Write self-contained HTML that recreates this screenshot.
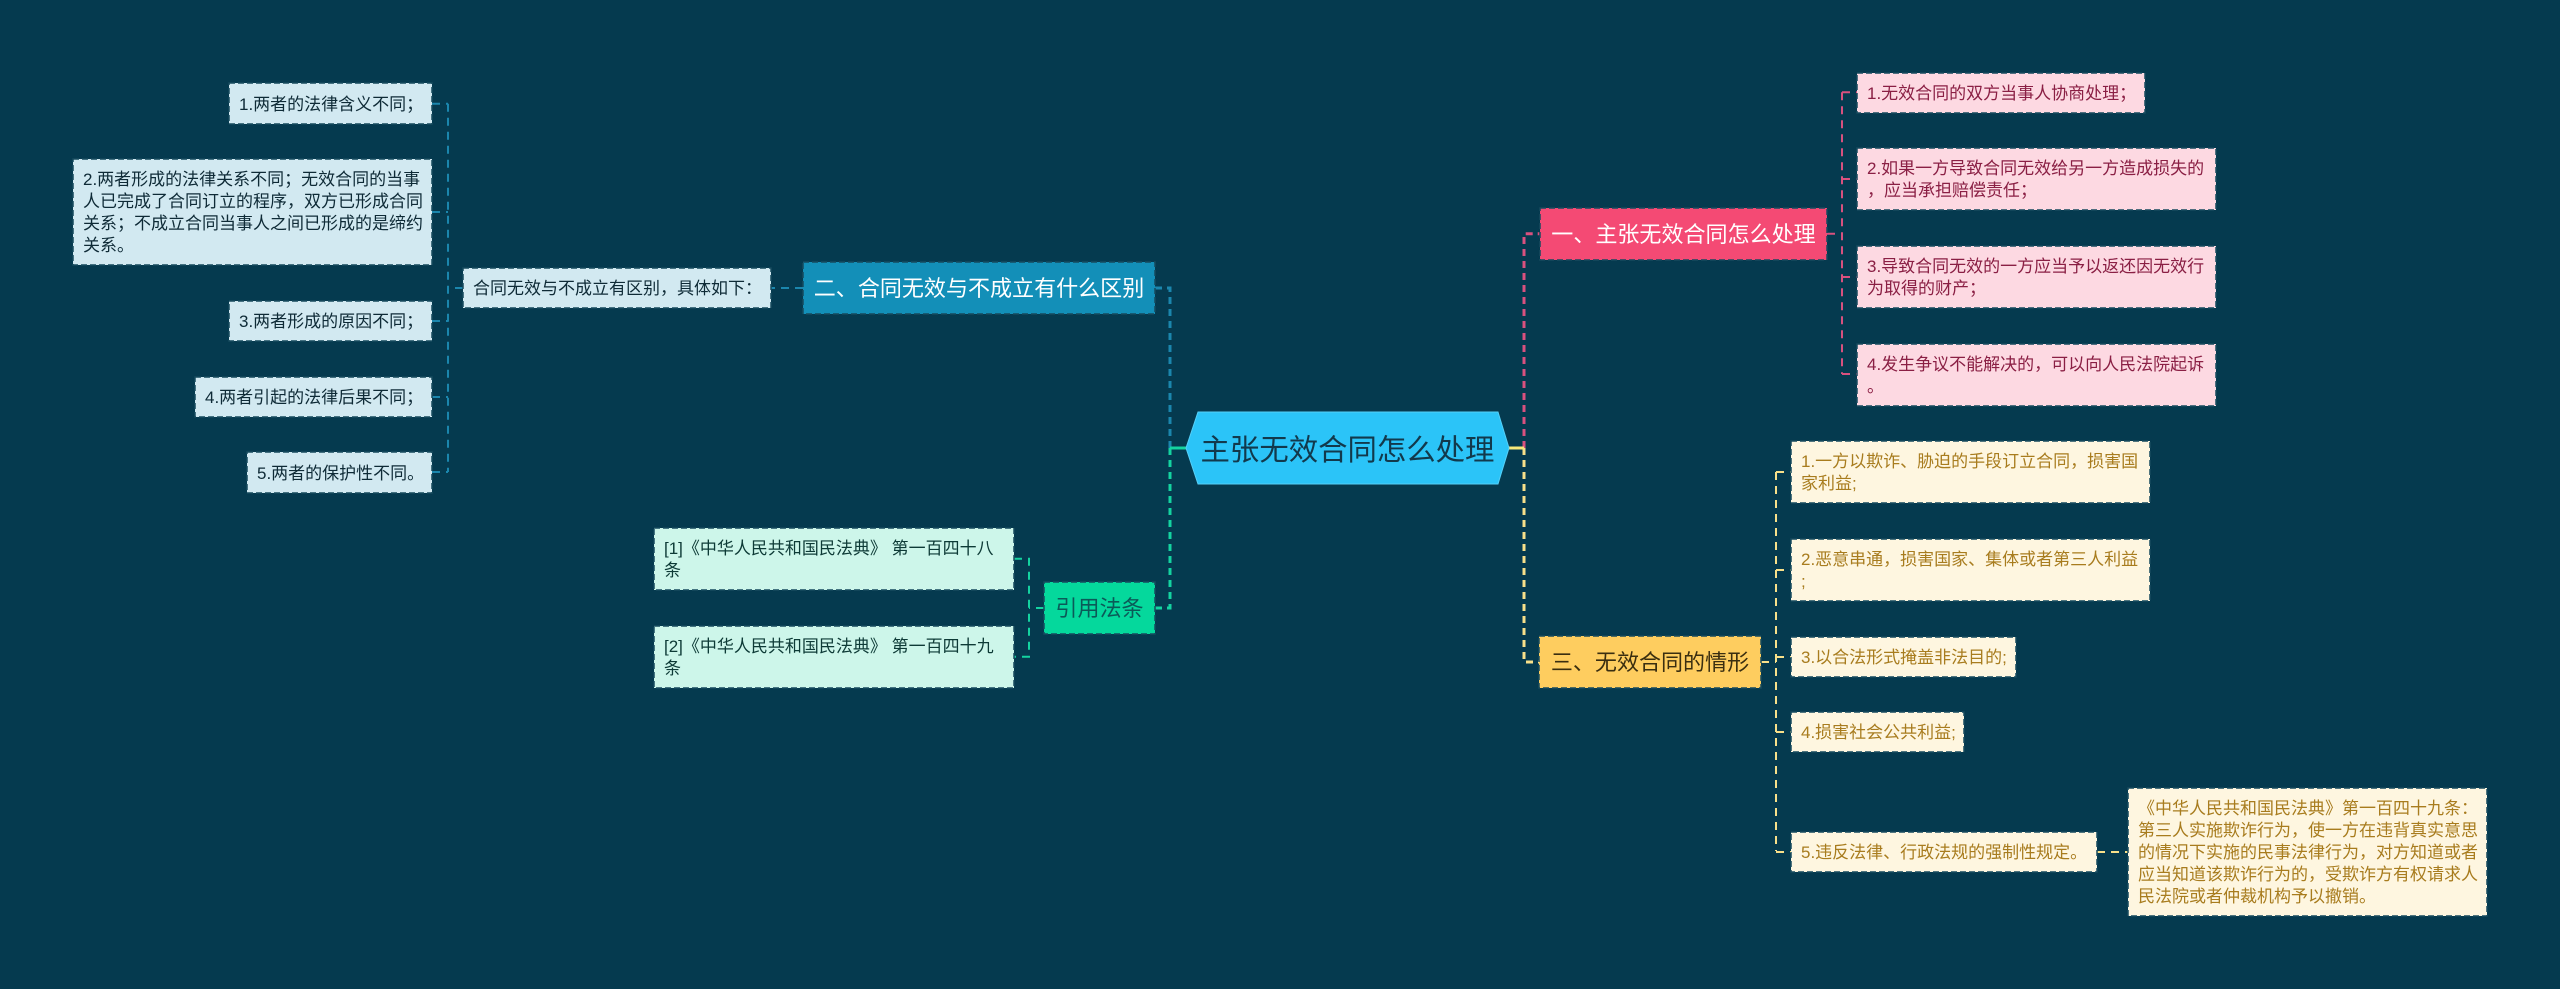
<!DOCTYPE html>
<html lang="zh">
<head>
<meta charset="utf-8">
<title>主张无效合同怎么处理</title>
<style>
html,body{margin:0;padding:0;background:#053a4f;}
#c{position:relative;width:2560px;height:989px;overflow:hidden;background:#053a4f;font-family:"Liberation Sans","Noto Sans CJK SC",sans-serif;}
svg{position:absolute;left:0;top:0;}
.b{position:absolute;box-sizing:border-box;display:flex;align-items:center;white-space:nowrap;font-size:17px;line-height:22px;padding-left:10px;}
.b span{position:relative;top:1px;}
.n{font-size:22.04px;line-height:30px;justify-content:center;padding-left:0;}
.p{background:#fdd9e2;color:#8a1f44;}
.y{background:#fef6e0;color:#a87c1e;}
.l{background:#d2e9f1;color:#0e2a36;}
.t{background:#cdf6ea;color:#0d3a36;}
#r{position:absolute;left:1186px;top:412px;width:323px;height:72px;display:flex;align-items:center;justify-content:center;font-size:29.4px;color:#12394c;white-space:nowrap;}
</style>
</head>
<body>
<div id="c">
<svg width="2560" height="989" viewBox="0 0 2560 989" fill="none">
  <!-- root connectors -->
  <g stroke-width="3">
    <path d="M1524 448V233.7H1540" stroke="#d9517f" stroke-dasharray="7 5"/>
    <path d="M1524 448V662H1539" stroke="#f8e08a" stroke-dasharray="7 5"/>
    <path d="M1170 448V288H1154" stroke="#1b86ad" stroke-dasharray="7 5"/>
    <path d="M1170 448V608H1155" stroke="#14d3a0" stroke-dasharray="7 5"/>
    <path d="M1509 448H1524" stroke="#f8e97a"/>
    <path d="M1186 448H1170" stroke="#14d3a0"/>
  </g>
  <!-- pink branch -->
  <g stroke="#d9517f" stroke-width="2" stroke-dasharray="8 6">
    <path d="M1827 233.7H1842"/>
    <path d="M1842 92.3V374"/>
    <path d="M1842 92.3H1857M1842 179H1857M1842 277H1857M1842 374H1857"/>
  </g>
  <!-- yellow branch -->
  <g stroke="#f8e08a" stroke-width="2" stroke-dasharray="8 6">
    <path d="M1761 662H1776"/>
    <path d="M1776 472V851"/>
    <path d="M1776 472H1791M1776 570H1791M1776 657H1791M1776 732H1791M1776 852H1791"/>
    <path d="M2097 852H2128"/>
  </g>
  <!-- blue branch -->
  <g stroke="#1b86ad" stroke-width="2" stroke-dasharray="8 6">
    <path d="M803 288H771"/>
    <path d="M463 288H448"/>
    <path d="M448 103.7V472"/>
    <path d="M432 103.7H448M432 212H448M432 321H448M432 397H448M432 472H448"/>
  </g>
  <!-- teal branch -->
  <g stroke="#14d3a0" stroke-width="2" stroke-dasharray="8 6">
    <path d="M1044 608H1029"/>
    <path d="M1014 558.7H1029V656.7H1014"/>
  </g>
  <!-- root -->
  <polygon points="1186,448 1198,412 1498,412 1509,448 1498,484 1198,484" fill="#2bc4f8" stroke="#55d0f8" stroke-width="1"/>
</svg>
<div id="r">主张无效合同怎么处理</div>

<div class="b n" style="left:1540px;top:208px;width:287px;height:52px;background:#f44a74;color:#fff;"><span>一、主张无效合同怎么处理</span></div>
<div class="b p" style="left:1857px;top:73px;width:288px;height:40px;"><span>1.无效合同的双方当事人协商处理；</span></div>
<div class="b p" style="left:1857px;top:148px;width:359px;height:62px;"><span>2.如果一方导致合同无效给另一方造成损失的<br>，应当承担赔偿责任；</span></div>
<div class="b p" style="left:1857px;top:246px;width:359px;height:62px;"><span>3.导致合同无效的一方应当予以返还因无效行<br>为取得的财产；</span></div>
<div class="b p" style="left:1857px;top:344px;width:359px;height:62px;"><span>4.发生争议不能解决的，可以向人民法院起诉<br>。</span></div>

<div class="b n" style="left:1539px;top:636px;width:222px;height:52px;background:#fecd5f;color:#3a2e10;"><span>三、无效合同的情形</span></div>
<div class="b y" style="left:1791px;top:441px;width:359px;height:62px;"><span>1.一方以欺诈、胁迫的手段订立合同，损害国<br>家利益;</span></div>
<div class="b y" style="left:1791px;top:539px;width:359px;height:62px;"><span>2.恶意串通，损害国家、集体或者第三人利益<br>;</span></div>
<div class="b y" style="left:1791px;top:637px;width:225px;height:40px;"><span>3.以合法形式掩盖非法目的;</span></div>
<div class="b y" style="left:1791px;top:712px;width:173px;height:40px;"><span>4.损害社会公共利益;</span></div>
<div class="b y" style="left:1791px;top:832px;width:306px;height:40px;"><span>5.违反法律、行政法规的强制性规定。</span></div>
<div class="b y" style="left:2128px;top:788px;width:359px;height:128px;"><span>《中华人民共和国民法典》第一百四十九条：<br>第三人实施欺诈行为，使一方在违背真实意思<br>的情况下实施的民事法律行为，对方知道或者<br>应当知道该欺诈行为的，受欺诈方有权请求人<br>民法院或者仲裁机构予以撤销。</span></div>

<div class="b n" style="left:803px;top:262px;width:352px;height:52px;background:#138fb8;color:#fff;"><span>二、合同无效与不成立有什么区别</span></div>
<div class="b l" style="left:463px;top:268px;width:308px;height:40px;"><span>合同无效与不成立有区别，具体如下：</span></div>
<div class="b l" style="left:229px;top:83px;width:203px;height:41px;"><span>1.两者的法律含义不同；</span></div>
<div class="b l" style="left:73px;top:159px;width:359px;height:106px;"><span>2.两者形成的法律关系不同；无效合同的当事<br>人已完成了合同订立的程序，双方已形成合同<br>关系；不成立合同当事人之间已形成的是缔约<br>关系。</span></div>
<div class="b l" style="left:229px;top:301px;width:203px;height:40px;"><span>3.两者形成的原因不同；</span></div>
<div class="b l" style="left:195px;top:377px;width:237px;height:40px;"><span>4.两者引起的法律后果不同；</span></div>
<div class="b l" style="left:247px;top:452px;width:185px;height:41px;"><span>5.两者的保护性不同。</span></div>

<div class="b n" style="left:1044px;top:582px;width:111px;height:52px;background:#05d89c;color:#0b5a58;"><span>引用法条</span></div>
<div class="b t" style="left:654px;top:528px;width:360px;height:62px;"><span>[1]《中华人民共和国民法典》 第一百四十八<br>条</span></div>
<div class="b t" style="left:654px;top:626px;width:360px;height:62px;"><span>[2]《中华人民共和国民法典》 第一百四十九<br>条</span></div>

<svg width="2560" height="989" viewBox="0 0 2560 989" fill="none" stroke="#164a5e" stroke-width="1.5" stroke-dasharray="6 3">
  <rect x="1540" y="208" width="287" height="52"/>
  <rect x="1857" y="73" width="288" height="40"/>
  <rect x="1857" y="148" width="359" height="62"/>
  <rect x="1857" y="246" width="359" height="62"/>
  <rect x="1857" y="344" width="359" height="62"/>
  <rect x="1539" y="636" width="222" height="52"/>
  <rect x="1791" y="441" width="359" height="62"/>
  <rect x="1791" y="539" width="359" height="62"/>
  <rect x="1791" y="637" width="225" height="40"/>
  <rect x="1791" y="712" width="173" height="40"/>
  <rect x="1791" y="832" width="306" height="40"/>
  <rect x="2128" y="788" width="359" height="128"/>
  <rect x="803" y="262" width="352" height="52"/>
  <rect x="463" y="268" width="308" height="40"/>
  <rect x="229" y="83" width="203" height="41"/>
  <rect x="73" y="159" width="359" height="106"/>
  <rect x="229" y="301" width="203" height="40"/>
  <rect x="195" y="377" width="237" height="40"/>
  <rect x="247" y="452" width="185" height="41"/>
  <rect x="1044" y="582" width="111" height="52"/>
  <rect x="654" y="528" width="360" height="62"/>
  <rect x="654" y="626" width="360" height="62"/>
</svg>
</div>
</body>
</html>
